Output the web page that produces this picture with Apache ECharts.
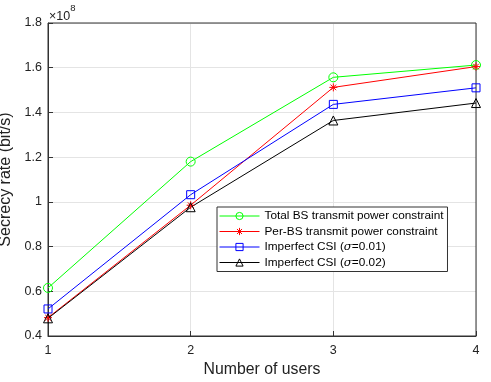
<!DOCTYPE html>
<html>
<head>
<meta charset="utf-8">
<script src="https://cdn.jsdelivr.net/npm/echarts@6/dist/echarts.min.js"></script>
<style>
  html, body { margin: 0; padding: 0; background: #fff; }
  #chart { width: 491px; height: 382px; }
</style>
</head>
<body>
<div id="chart"></div>
<script>
// data (units of 1e8 bit/s)
var users = [1, 2, 3, 4]
var totalBS = [0.615, 1.18, 1.557, 1.612]
var perBS = [0.482, 0.985, 1.512, 1.605]
var csi001 = [0.521, 1.032, 1.436, 1.51]
var csi002 = [0.479, 0.976, 1.364, 1.442]
var yTicks = [0.4, 0.6, 0.8, 1.0, 1.2, 1.4, 1.6, 1.8]

var font = 'Liberation Sans, Arial, sans-serif'
var star = 'path://M5,0L5,10M0,5L10,5M1.5,1.5L8.5,8.5M8.5,1.5L1.5,8.5'

function pairs(arr) {
  return users.map(function (u, i) { return [u, arr[i]] })
}

function mkSeries(name, data, color, symbol, size) {
  return {
    name: name,
    type: 'line',
    data: pairs(data),
    symbol: symbol,
    symbolSize: size,
    showAllSymbol: true,
    lineStyle: { color: color, width: 1 },
    itemStyle: { color: 'rgba(255,255,255,0)', borderColor: color, borderWidth: 1 },
    emphasis: { disabled: true },
    z: 3
  }
}

var chart = echarts.init(document.getElementById('chart'))
chart.setOption({
  animation: false,
  textStyle: { fontFamily: font },
  grid: { left: 48, right: 15, top: 23, bottom: 46, containLabel: false, outerBoundsMode: 'none' },
  legend: {
    orient: 'vertical',
    left: 217,
    top: 207,
    itemWidth: 40,
    itemHeight: 9,
    itemGap: 3.5,
    padding: [3, 4, 3, 2],
    backgroundColor: '#fff',
    borderColor: '#333',
    borderWidth: 1,
    borderRadius: 0,
    lineStyle: { width: 1 },
    itemStyle: { borderWidth: 1 },
    textStyle: {
      fontSize: 11.8,
      color: '#000',
      fontFamily: font,
      rich: {
        n: { fontSize: 11.8, fontFamily: font, color: '#000' },
        s: { fontSize: 11.8, fontFamily: 'DejaVu Serif, serif', fontStyle: 'italic', color: '#000' }
      }
    },
    formatter: function (name) {
      var m = name.match(/^(.*\()σ(=.*)$/)
      if (m) return '{n|' + m[1] + '}{s|σ}{n|' + m[2] + '}'
      return '{n|' + name + '}'
    },
    data: [
      'Total BS transmit power constraint',
      'Per-BS transmit power constraint',
      'Imperfect CSI (σ=0.01)',
      'Imperfect CSI (σ=0.02)'
    ]
  },
  xAxis: {
    type: 'value',
    min: 1,
    max: 4,
    interval: 1,
    name: 'Number of users',
    nameLocation: 'middle',
    nameGap: 23,
    nameTextStyle: { fontSize: 15.8, color: '#222' },
    axisLine: { lineStyle: { color: '#333', width: 1 } },
    axisTick: { inside: true, length: 5, lineStyle: { color: '#333' } },
    axisLabel: { fontSize: 12.5, color: '#222', margin: 8 },
    splitLine: { show: true, lineStyle: { color: '#e4e4e4', width: 1 } }
  },
  yAxis: {
    type: 'value',
    min: 0.4,
    max: 1.8,
    interval: 0.2,
    name: 'Secrecy rate (bit/s)',
    nameLocation: 'middle',
    nameGap: 31,
    nameTextStyle: { fontSize: 16, color: '#222' },
    axisLine: { show: true, lineStyle: { color: '#333', width: 1 } },
    axisTick: { show: true, inside: true, length: 5, lineStyle: { color: '#333' } },
    axisLabel: {
      fontSize: 12.5,
      color: '#222',
      margin: 6,
      formatter: function (v) { return String(+v.toFixed(1)) }
    },
    splitLine: { show: true, lineStyle: { color: '#e4e4e4', width: 1 } }
  },
  graphic: [
    // top and right box lines
    { type: 'rect', shape: { x: 48, y: 23, width: 428, height: 313 }, style: { fill: 'none', stroke: '#333', lineWidth: 1 }, silent: true, z: 1 },
    {
      type: 'text',
      left: 49,
      top: 3,
      style: {
        text: '{a|×10}{b|8}',
        rich: {
          a: { fontSize: 12.5, fontFamily: font, fill: '#222', padding: [7, 0, 0, 0] },
          b: { fontSize: 9.5, fontFamily: font, fill: '#222', verticalAlign: 'top' }
        }
      }
    }
  ],
  series: [
    mkSeries('Total BS transmit power constraint', totalBS, '#00ff00', 'circle', 9),
    mkSeries('Per-BS transmit power constraint', perBS, '#ff0000', star, 8),
    mkSeries('Imperfect CSI (σ=0.01)', csi001, '#0000ff', 'rect', 8),
    mkSeries('Imperfect CSI (σ=0.02)', csi002, '#000000', 'triangle', 9)
  ]
})
</script>
</body>
</html>
